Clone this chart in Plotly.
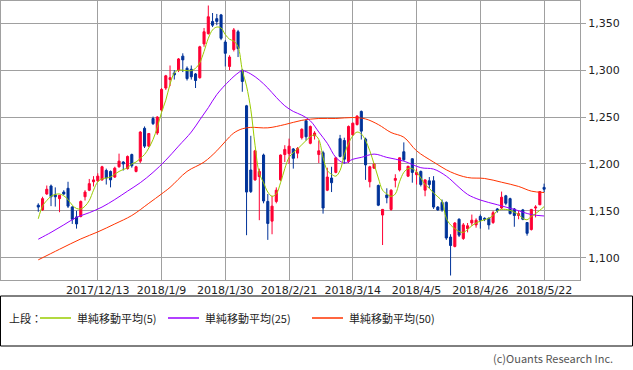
import plotly.graph_objects as go

# ---- data (x = trading-day index; first candle = 2017/11/22) ----
tick_pos = [14, 29, 44, 59, 74, 89, 104, 119]
tick_text = ["2017/12/13", "2018/1/9", "2018/1/30", "2018/2/21",
             "2018/3/14", "2018/4/5", "2018/4/26", "2018/5/22"]
y_ticks = [1100, 1150, 1200, 1250, 1300, 1350]

opens = [1156, 1151, 1168, 1176.5, 1167, 1163, 1170, 1174, 1154, 1143.5,
         1144, 1165, 1172, 1181, 1182, 1183, 1193, 1192, 1186, 1197,
         1202, 1195, 1210, 1192, 1203, 1238, 1219, 1248.5, 1233, 1257.5,
         1281, 1290, 1297, 1300, 1315, 1302, 1301, 1296, 1292, 1328,
         1339, 1352, 1355, 1359, 1330, 1304, 1322, 1341, 1300, 1262,
         1193.5, 1183, 1186.5, 1209.5, 1160, 1139, 1160, 1183, 1210, 1211,
         1216, 1211.5, 1228, 1246, 1222, 1230, 1210, 1212, 1172, 1185,
         1191, 1227, 1225, 1202.5, 1231, 1242, 1256, 1226.5, 1181, 1195.5,
         1177, 1145.5, 1167, 1151.5, 1182.5, 1193.5, 1213, 1187, 1205.5, 1188.5,
         1192, 1172, 1182, 1182, 1154, 1159, 1159, 1122, 1112, 1141,
         1120.5, 1131, 1137, 1135, 1144, 1142, 1142, 1137.5, 1152, 1153,
         1166, 1163, 1152, 1145, 1151, 1137.5, 1130, 1153, 1156.5, 1175]
highs = [1158, 1165, 1177, 1178, 1175, 1167, 1172, 1181, 1155, 1150,
         1161, 1172, 1184, 1187, 1190, 1198, 1195, 1193, 1197, 1211,
         1203, 1209, 1211, 1198, 1235, 1240, 1233, 1250.5, 1251, 1281,
         1295, 1305, 1300, 1313, 1318, 1304, 1305, 1297, 1326, 1345,
         1369, 1361, 1360, 1360, 1332, 1316, 1345, 1343, 1301, 1263,
         1230, 1215, 1195, 1211, 1168, 1166, 1175, 1210, 1220, 1227,
         1217, 1218, 1238, 1248, 1241, 1235, 1225, 1214, 1196, 1197,
         1207, 1231, 1228, 1241, 1244, 1252, 1257, 1228, 1198, 1201,
         1178, 1152, 1174, 1173, 1189, 1207, 1223, 1198, 1206, 1195,
         1193, 1183.5, 1186, 1187, 1155, 1162, 1160, 1125, 1138, 1142,
         1137, 1137, 1146, 1142, 1146, 1143, 1143, 1150, 1153, 1170.5,
         1167, 1164, 1153, 1150, 1152, 1138, 1152, 1156, 1171, 1179]
lows = [1149, 1150, 1167, 1155, 1154.5, 1148.5, 1167, 1153, 1136, 1131,
        1143, 1161, 1171, 1176, 1181, 1182, 1178, 1175, 1185, 1196,
        1193, 1194, 1196, 1191, 1201, 1217, 1218, 1241.5, 1231, 1256,
        1279, 1283, 1290, 1298, 1298, 1289, 1290, 1281, 1291, 1325,
        1338, 1346, 1348, 1332, 1304, 1300, 1320, 1314, 1277, 1124,
        1169, 1182, 1140, 1158, 1119, 1125, 1158, 1182, 1202, 1200,
        1195, 1206, 1226, 1225, 1221, 1226, 1201, 1147, 1171, 1170,
        1190, 1207, 1200, 1201, 1230, 1241, 1226, 1183, 1175, 1195,
        1155, 1113.5, 1158, 1150, 1175, 1192, 1203, 1186, 1180, 1178,
        1176, 1165.5, 1174, 1152, 1150, 1149, 1119, 1081, 1111, 1122,
        1119, 1127, 1134, 1132, 1131, 1139, 1130, 1136, 1148, 1152,
        1156, 1146, 1133, 1141, 1140, 1123.5, 1129, 1143, 1156, 1170]
closes = [1154, 1163, 1173, 1165, 1165, 1166.5, 1168, 1155, 1141, 1136,
          1160, 1170, 1179, 1183, 1187, 1197, 1185, 1183, 1195.5, 1203,
          1200, 1208, 1198, 1197, 1234, 1219, 1232.5, 1243, 1250, 1279.5,
          1294, 1292, 1295, 1312, 1311, 1291, 1293, 1289, 1325, 1341,
          1357, 1348, 1352, 1334, 1318, 1314, 1343, 1323, 1288, 1170,
          1170.5, 1214, 1192, 1160.5, 1136.5, 1155, 1172, 1209.5, 1215.5, 1219,
          1206, 1216.5, 1237, 1229, 1240, 1233, 1214, 1153, 1186, 1180,
          1206.5, 1208, 1205, 1240, 1243.5, 1251, 1235, 1199, 1197, 1200,
          1156, 1151.5, 1164, 1172, 1184.5, 1206.5, 1204.5, 1197.5, 1191, 1191,
          1178, 1183, 1178, 1154, 1151, 1151, 1121, 1113, 1137, 1124,
          1135, 1134, 1140, 1140, 1140, 1141, 1135, 1148, 1150, 1164.5,
          1158, 1147, 1145, 1147, 1141, 1126, 1151.5, 1154, 1170.5, 1173]

ma5 = [1141.5, 1155, 1161, 1165.5, 1167.5, 1168, 1166, 1162, 1156, 1152.5,
       1152, 1155, 1161, 1172, 1181, 1184, 1185, 1186, 1189, 1192,
       1194, 1196, 1200, 1202, 1206, 1210, 1217, 1226, 1239, 1255,
       1268, 1285, 1297, 1300, 1300, 1299.5, 1299.5, 1302, 1308, 1320,
       1334, 1343, 1346, 1345, 1338, 1333, 1331, 1325, 1300, 1283,
       1258, 1220, 1190, 1180, 1170, 1165.5, 1168, 1180, 1195, 1207,
       1212, 1216, 1220.5, 1225, 1229, 1231, 1226, 1207, 1193, 1189,
       1187, 1193, 1210, 1222, 1230, 1234, 1232, 1225, 1214, 1200,
       1185, 1172, 1168, 1165.5, 1168, 1181, 1191, 1195, 1195, 1191.5,
       1185, 1178, 1174, 1169, 1165, 1160, 1142, 1135, 1131, 1128,
       1127, 1130, 1134, 1137, 1139, 1140.5, 1142, 1145, 1150, 1151.5,
       1151.5, 1150.5, 1148.5, 1146, 1142, 1140.5, 1144, 1147, 1150.5, 1154.5]

ma25_x = [0, 3, 6, 9, 12, 15, 18, 21, 24, 27, 30, 33, 36, 38, 40, 42, 45, 47,
          48, 50, 52, 54, 56, 58, 60, 62, 64, 66, 68, 70, 72, 74, 76, 79, 82,
          86, 90, 93, 96, 99, 101, 104, 108, 112, 116, 119]
ma25 = [1119.7, 1127, 1135, 1143, 1148, 1154, 1162, 1171, 1180, 1191, 1204,
        1219, 1234, 1247, 1260, 1274, 1289, 1297, 1299.5, 1296, 1289.5, 1281,
        1271, 1262, 1256, 1252, 1246, 1234, 1222, 1207, 1201, 1205, 1207,
        1210.5, 1207, 1203, 1196, 1194.5, 1187, 1175, 1167.5, 1161.5, 1156.5,
        1151.5, 1146, 1144.5]

ma50_x = [0, 5, 10, 14, 18, 22, 26, 29, 31, 35, 39, 42, 44, 46, 48, 50, 54,
          58, 62, 66, 70, 74, 77, 80, 83, 86, 89, 93, 97, 101, 105, 109, 113,
          116, 119]
ma50 = [1097.7, 1109, 1120, 1127.5, 1136, 1145, 1158, 1168, 1175, 1192, 1202,
        1214, 1224, 1233, 1237.5, 1239, 1238.5, 1242, 1246.5, 1248.5, 1248.5,
        1249.5, 1248, 1242, 1233.5, 1228.5, 1214, 1202, 1191.5, 1185.5,
        1184.5, 1180.5, 1176, 1171, 1169.5]

series_names = ["単純移動平均(5)", "単純移動平均(25)", "単純移動平均(50)"]
series_colors = ["#99cc00", "#9900ff", "#ff3300"]

# ---- figure ----
fig = go.Figure()
xs = list(range(len(opens)))
fig.add_trace(go.Scatter(x=ma50_x, y=ma50, mode="lines", line=dict(color=series_colors[2], width=1, shape="spline"),
                         name=series_names[2], showlegend=False, hoverinfo="skip"))
fig.add_trace(go.Scatter(x=ma25_x, y=ma25, mode="lines", line=dict(color=series_colors[1], width=1, shape="spline"),
                         name=series_names[1], showlegend=False, hoverinfo="skip"))
fig.add_trace(go.Scatter(x=xs, y=ma5, mode="lines", line=dict(color=series_colors[0], width=1, shape="spline"),
                         name=series_names[0], showlegend=False, hoverinfo="skip"))
fig.add_trace(go.Candlestick(
    x=xs, open=opens, high=highs, low=lows, close=closes,
    increasing=dict(line=dict(color="#ff0033", width=1), fillcolor="#ff0033"),
    decreasing=dict(line=dict(color="#003399", width=1), fillcolor="#003399"),
    whiskerwidth=0, showlegend=False, hoverinfo="skip"))

W, H = 633, 370
ml, mr, mt, mb = 1, 53, 1, 90
pw, ph = W - ml - mr, H - mt - mb

def px(x):
    return (x - ml) / pw

def py(y):
    return (H - mb - y) / ph

shapes = [dict(type="rect", xref="paper", yref="paper", x0=px(0.5), x1=px(632.5),
               y0=py(296), y1=py(346), line=dict(color="#000000", width=1))]
leg_lines = [(40, 71), (168, 199), (312, 343)]
for (a, b), c in zip(leg_lines, series_colors):
    shapes.append(dict(type="line", xref="paper", yref="paper", x0=px(a), x1=px(b),
                       y0=py(318), y1=py(318), line=dict(color=c, width=1.5)))

cjk = "Noto Sans CJK JP"
ann = [dict(text="上段：", x=px(7), y=py(318), xref="paper", yref="paper",
            xanchor="left", yanchor="middle", showarrow=False, font=dict(family=cjk, size=11, color="#222"))]
for xx, t in zip([75, 203, 347], series_names):
    ann.append(dict(text=t, x=px(xx), y=py(318), xref="paper", yref="paper",
                    xanchor="left", yanchor="middle", showarrow=False,
                    font=dict(family=cjk, size=11, color="#222")))
ann.append(dict(text="(c)Ouants Research Inc.", x=px(615), y=py(358), xref="paper", yref="paper",
                xanchor="right", yanchor="middle", showarrow=False,
                font=dict(family=cjk, size=11, color="#555")))

fig.update_layout(
    width=W, height=H, margin=dict(l=ml, r=mr, t=mt, b=mb),
    paper_bgcolor="white", plot_bgcolor="white",
    showlegend=False, shapes=shapes, annotations=ann,
    font=dict(family="DejaVu Sans", size=11, color="#222"),
    boxgap=0.3,
    xaxis=dict(range=[-8.77, 127.45], tickmode="array", tickvals=tick_pos, ticktext=tick_text,
               showgrid=True, gridcolor="#a0a0a0", gridwidth=1, zeroline=False,
               showline=True, mirror=True, linecolor="#a0a0a0", linewidth=1,
               ticks="", rangeslider=dict(visible=False), fixedrange=True,
               tickfont=dict(family="DejaVu Sans", size=11, color="#222")),
    yaxis=dict(range=[1076.2, 1373.8], side="right", tickmode="array", tickvals=y_ticks,
               tickformat=",", showgrid=True, gridcolor="#a0a0a0", gridwidth=1, zeroline=False,
               showline=True, mirror=True, linecolor="#a0a0a0", linewidth=1,
               ticks="outside", ticklen=5, tickcolor="#a0a0a0", fixedrange=True,
               tickfont=dict(family="DejaVu Sans", size=11, color="#222")),
)

fig.write_html("out.html", config={"displayModeBar": False},
               post_script="document.body.style.margin='0';document.body.style.overflow='hidden';")
